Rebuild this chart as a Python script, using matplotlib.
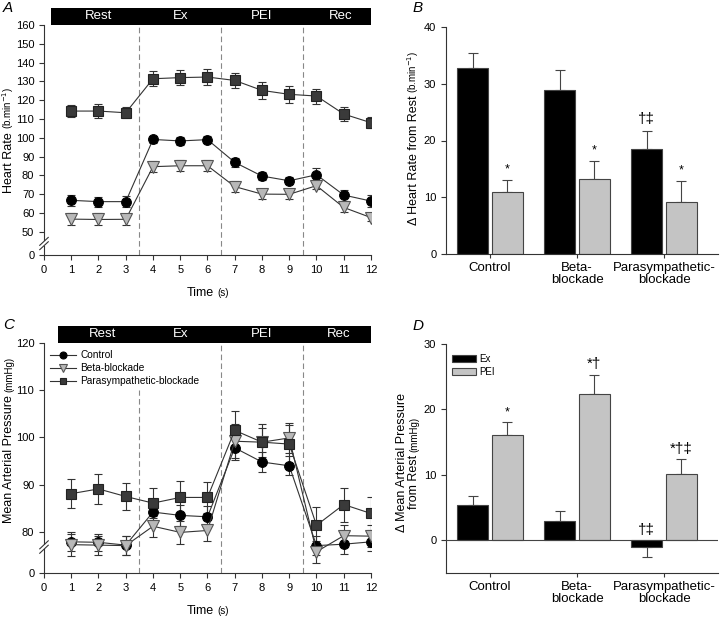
import matplotlib
matplotlib.use("Agg")
import matplotlib.pyplot as plt
import matplotlib.transforms as mtransforms
from matplotlib.lines import Line2D
from matplotlib.patches import Rectangle, Patch
import numpy as np

plt.rcParams["font.family"] = ["Liberation Sans", "DejaVu Sans"]

# ---- data ----
time_points = list(range(1, 13))
phases = ["Rest", "Ex", "PEI", "Rec"]
group_ticks = ["Control", "Beta-\nblockade", "Parasympathetic-\nblockade"]
legend_groups = ["Control", "Beta-blockade", "Parasympathetic-blockade"]

hr_control = [66.7, 66.0, 66.0, 99.1, 98.3, 99.0, 86.9, 79.6, 77.1, 80.3, 69.5, 66.3]
hr_control_err = [2.8, 2.7, 3.0, 1.9, 2.0, 1.9, 2.3, 2.3, 1.9, 3.4, 2.9, 3.3]
hr_beta = [56.7, 56.5, 56.6, 84.6, 85.1, 85.1, 74.0, 70.0, 69.9, 74.5, 62.9, 57.5]
hr_beta_err = [3.3, 3.2, 3.0, 3.0, 3.0, 3.0, 3.0, 2.5, 2.5, 2.0, 2.5, 2.0]
hr_para = [114.2, 114.2, 113.3, 131.4, 132.0, 132.3, 130.5, 125.2, 123.1, 122.2, 112.6, 108.0]
hr_para_err = [3.2, 3.5, 3.0, 4.0, 4.0, 4.2, 4.0, 4.5, 4.5, 4.0, 3.5, 3.0]

map_control = [77.9, 77.8, 77.2, 84.2, 83.5, 83.2, 97.8, 94.8, 94.0, 77.1, 77.4, 77.9]
map_control_err = [2.0, 1.8, 2.0, 1.8, 2.2, 2.2, 2.5, 2.2, 2.0, 2.0, 2.0, 2.0]
map_beta = [77.3, 77.2, 77.1, 81.2, 79.9, 80.3, 99.2, 99.0, 99.9, 75.8, 79.2, 79.1]
map_beta_err = [2.3, 2.0, 2.0, 2.2, 2.4, 2.2, 3.6, 3.1, 3.1, 2.3, 2.3, 2.3]
map_para = [88.1, 89.1, 87.5, 86.1, 87.3, 87.3, 101.5, 99.0, 98.6, 81.4, 85.8, 83.9]
map_para_err = [3.1, 3.1, 2.9, 3.2, 3.4, 3.2, 4.2, 3.9, 4.1, 3.8, 3.6, 3.5]

delta_hr_ex = [32.8, 28.9, 18.5]
delta_hr_ex_err = [2.6, 3.5, 3.2]
delta_hr_pei = [10.9, 13.2, 9.1]
delta_hr_pei_err = [2.2, 3.2, 3.7]
delta_hr_ex_marks = ["", "", "†‡"]
delta_hr_pei_marks = ["*", "*", "*"]

delta_map_ex = [5.4, 3.0, -1.1]
delta_map_ex_err = [1.3, 1.4, 1.5]
delta_map_pei = [16.1, 22.3, 10.1]
delta_map_pei_err = [2.0, 3.0, 2.3]
delta_map_ex_marks = ["", "", "†‡"]
delta_map_pei_marks = ["*", "*†", "*†‡"]

LINE = "#333333"
GREY_BAR = "#c4c4c4"
styles = [
    dict(marker="o", ms=7, mfc="black", mec="black"),
    dict(marker="v", ms=8, mfc="#b8b8b8", mec="#555555"),
    dict(marker="s", ms=7, mfc="#3a3a3a", mec="#222222"),
]

fig = plt.figure(figsize=(7.2, 6.17), dpi=100)
W, H = 720.0, 617.0


def px_axes(left, top, right, bottom):
    return fig.add_axes([left / W, 1 - bottom / H, (right - left) / W, (bottom - top) / H])


def mixed_text(x_px, y_px, parts, rotation=0, gap_px=3):
    # parts drawn one after the other, centred on (x_px, y_px), sharing a baseline
    renderer = fig.canvas.get_renderer()
    texts = []
    for s, size in parts:
        t = fig.text(0, 0, s, fontsize=size, rotation=rotation, rotation_mode="anchor",
                     ha="left", va="baseline")
        texts.append(t)
    lengths = []
    for t in texts:
        bb = t.get_window_extent(renderer)
        lengths.append(bb.height if rotation else bb.width)
    total = sum(lengths) + gap_px * (len(texts) - 1)
    pos = (y_px + total / 2) if rotation else (x_px - total / 2)
    for t, length in zip(texts, lengths):
        if rotation:
            t.set_position((x_px / W, 1 - pos / H))
            pos -= length + gap_px
        else:
            t.set_position((pos / W, 1 - y_px / H))
            pos += length + gap_px


def style_axes(ax):
    for side in ("top", "right"):
        ax.spines[side].set_visible(False)
    for side in ("left", "bottom"):
        ax.spines[side].set_linewidth(0.8)
        ax.spines[side].set_color("#333333")
    ax.tick_params(direction="out", length=3.5, width=0.8, color="#333333", labelsize=8)


def draw_break(ax, y_break, dy):
    trans = mtransforms.blended_transform_factory(ax.transAxes, ax.transData)
    ax.add_patch(Rectangle((-0.01, y_break - dy * 0.55), 0.02, dy * 1.1, transform=trans,
                           facecolor="white", edgecolor="none", clip_on=False, zorder=5))
    for off in (-dy * 0.55, dy * 0.55):
        ax.plot([-0.013, 0.013], [y_break + off - dy, y_break + off + dy], transform=trans,
                color="#333333", lw=0.8, clip_on=False, zorder=6)


def draw_phase_band(ax, start, label_x):
    trans = mtransforms.blended_transform_factory(ax.transData, ax.transAxes)
    ax.add_patch(Rectangle((start, 1.0), 12 - start, 0.075, transform=trans,
                           facecolor="black", edgecolor="none", clip_on=False, zorder=4))
    for name, x in zip(phases, label_x):
        ax.text(x, 1.0375, name, transform=trans, color="white", fontsize=9.5,
                ha="center", va="center", zorder=5)


def draw_time_panel(ax, series, zero_at, top, ticks, break_at, break_dy, band_start, band_x, short_first):
    style_axes(ax)
    for (vals, errs), st in zip(series, styles):
        ax.errorbar(time_points, vals, yerr=errs, color=LINE, lw=0.8, ecolor=LINE,
                    elinewidth=0.8, capsize=3, capthick=0.8, mew=0.8, zorder=3, **st)
    for i, x in enumerate((3.5, 6.5, 9.5)):
        y_top = 110 if (short_first and i == 0) else top
        ax.plot([x, x], [zero_at, y_top], color="#888888", lw=0.8, dashes=(5, 3), zorder=1)
    ax.set_xlim(0, 12)
    ax.set_ylim(zero_at, top)
    ax.set_xticks(range(0, 13))
    ax.set_yticks([zero_at] + ticks)
    ax.set_yticklabels(["0"] + [str(t) for t in ticks])
    draw_break(ax, break_at, break_dy)
    draw_phase_band(ax, band_start, band_x)


def draw_bar_panel(ax, ex, ex_err, pei, pei_err, ex_marks, pei_marks, ylim, yticks, mark_offset):
    style_axes(ax)
    ax.tick_params(axis="x", length=3, pad=3, labelsize=9.5)
    x = np.arange(len(ex))
    for offset, vals, errs, color, marks in ((-0.2, ex, ex_err, "black", ex_marks),
                                            (0.2, pei, pei_err, GREY_BAR, pei_marks)):
        ax.bar(x + offset, vals, width=0.356, color=color, edgecolor="#444444", linewidth=0.8, zorder=2)
        lower = [e if v < 0 else 0 for v, e in zip(vals, errs)]
        upper = [0 if v < 0 else e for v, e in zip(vals, errs)]
        ax.errorbar(x + offset, vals, yerr=[lower, upper], fmt="none", ecolor="#444444",
                    elinewidth=0.8, capsize=3.5, capthick=0.8, zorder=1)
        for xi, v, e, m in zip(x + offset, vals, errs, marks):
            if not m:
                continue
            base = v + e if v > 0 else 0
            ax.text(xi, base + mark_offset, m, ha="center", va="bottom",
                    fontsize=11 if "†" in m else 9)
    ax.set_xlim(-0.506, 2.62)
    ax.set_ylim(*ylim)
    ax.set_yticks(yticks)
    ax.set_xticks(x)
    ax.set_xticklabels(group_ticks, linespacing=1.0)


ax_a = px_axes(44, 25, 371, 255)
ax_b = px_axes(446, 27, 718, 254)
ax_c = px_axes(44, 343, 371, 573)
ax_d = px_axes(446, 344, 718, 573)

draw_time_panel(ax_a, [(hr_control, hr_control_err), (hr_beta, hr_beta_err), (hr_para, hr_para_err)],
                37.6, 160, list(range(50, 161, 10)), 43.7, 2.1, 0.27, [2.0, 5.0, 8.0, 10.9], False)
draw_time_panel(ax_c, [(map_control, map_control_err), (map_beta, map_beta_err), (map_para, map_para_err)],
                71.3, 120, [80, 90, 100, 110, 120], 76.8, 0.85, 0.5, [2.15, 5.0, 8.0, 10.8], True)

legend_styles = [dict(st, ms=st["ms"] - 2) for st in styles]
handles = [Line2D([], [], color=LINE, lw=0.8, mew=0.8, **st) for st in legend_styles]
ax_c.legend(handles, legend_groups, loc="upper left", bbox_to_anchor=(0.0, 0.995), frameon=False,
            fontsize=7.3, handlelength=2.6, handletextpad=0.4, labelspacing=0.3, borderaxespad=0.2)

draw_bar_panel(ax_b, delta_hr_ex, delta_hr_ex_err, delta_hr_pei, delta_hr_pei_err,
               delta_hr_ex_marks, delta_hr_pei_marks, (0, 40), [0, 10, 20, 30, 40], 0.8)
draw_bar_panel(ax_d, delta_map_ex, delta_map_ex_err, delta_map_pei, delta_map_pei_err,
               delta_map_ex_marks, delta_map_pei_marks, (-5, 30), [0, 10, 20, 30], 0.5)
ax_d.axhline(0, color="#444444", lw=0.8, zorder=3)
ax_d.legend([Patch(facecolor="black", edgecolor="#444444", lw=0.8),
             Patch(facecolor=GREY_BAR, edgecolor="#444444", lw=0.8)], ["Ex", "PEI"],
            loc="upper left", bbox_to_anchor=(0.0, 0.983), frameon=False, fontsize=7,
            handlelength=2.5, handleheight=0.72, handletextpad=0.3, labelspacing=0.3, borderaxespad=0.2)

# axis labels with smaller unit text
mixed_text(12.5, 140, [("Heart Rate", 9), ("(b.min$^{-1}$)", 7)], rotation=90)
mixed_text(416.5, 138, [("Δ Heart Rate from Rest", 9), ("(b.min$^{-1}$)", 7)], rotation=90)
mixed_text(12.5, 440, [("Mean Arterial Pressure", 9), ("(mmHg)", 7)], rotation=90)
mixed_text(405, 463, [("Δ Mean Arterial Pressure", 9)], rotation=90)
mixed_text(417, 463, [("from Rest", 9), ("(mmHg)", 7)], rotation=90)
mixed_text(208, 296, [("Time", 9), ("(s)", 7)])
mixed_text(208, 614, [("Time", 9), ("(s)", 7)])

for label, x, y in (("A", 3, 12), ("B", 413, 12), ("C", 3, 329), ("D", 413, 330)):
    fig.text(x / W, 1 - y / H, label, fontsize=11, style="italic", ha="left", va="baseline")

fig.savefig("out.png", dpi=100)
